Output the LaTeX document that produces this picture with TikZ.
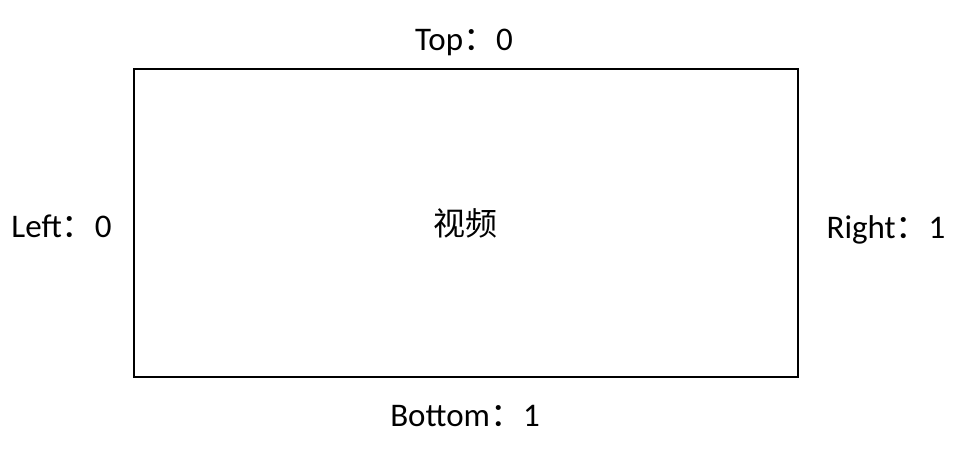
\documentclass[tikz,border=0pt]{standalone}
\usepackage{fontspec}
\setmainfont{Carlito}
\newfontfamily\cjk{Noto Sans CJK SC}
\begin{document}
\begin{tikzpicture}[x=1pt,y=-1pt,
  lbl/.style={anchor=base,inner sep=0pt,font=\fontsize{33}{40}\selectfont},
  box/.style={draw=black,line width=2pt}]
\useasboundingbox (0,0) rectangle (973,460);
\node[box,minimum width=664pt,minimum height=308pt,inner sep=0pt,anchor=north west] (video) at (133,68) {};
\node[anchor=center,inner sep=0pt,font=\fontsize{32}{40}\cjk\selectfont] (vt) at (465,223) {视频};
\node[lbl] (top) at (464,50) {Top{\cjk ：}0};
\node[lbl] (left) at (61.5,237) {Left{\cjk ：}0};
\node[lbl] (right) at (886,238) {Right{\cjk ：}1};
\node[lbl] (bottom) at (465,426) {Bottom{\cjk ：}1};
\end{tikzpicture}
\end{document}
